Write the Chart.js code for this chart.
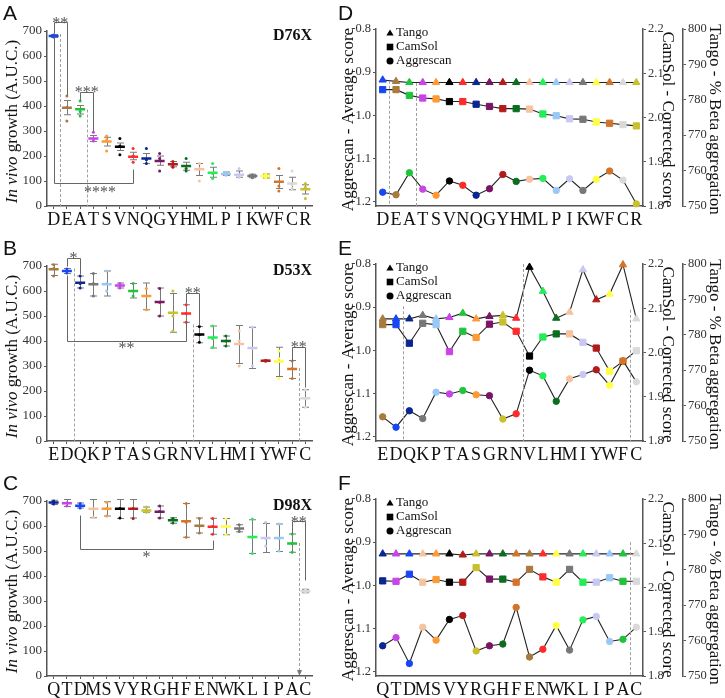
<!DOCTYPE html>
<html>
<head>
<meta charset="utf-8">
<script src="https://cdn.jsdelivr.net/npm/chart.js@4.4.1/dist/chart.umd.min.js"></script>
<style>
  body { margin: 0; background: #fff; }
  #page { position: relative; width: 725px; height: 698px; overflow: hidden; }
  canvas, .tag { position: absolute; }
  .tag { font: 21px 'Liberation Sans', Arial, sans-serif; line-height: 1; color: #111; }
</style>
</head>
<body>
<div id="page">
  <canvas id="growthA" width="330" height="228" style="left:0;top:0"></canvas>
  <canvas id="growthB" width="330" height="228" style="left:0;top:235px"></canvas>
  <canvas id="growthC" width="330" height="228" style="left:0;top:470px"></canvas>
  <canvas id="scoreD" width="395" height="228" style="left:330px;top:0"></canvas>
  <canvas id="scoreE" width="395" height="228" style="left:330px;top:235px"></canvas>
  <canvas id="scoreF" width="395" height="228" style="left:330px;top:470px"></canvas>
  <div class="tag" style="left:3px;top:2px">A</div>
  <div class="tag" style="left:3px;top:237px">B</div>
  <div class="tag" style="left:3px;top:472px">C</div>
  <div class="tag" style="left:338px;top:2px">D</div>
  <div class="tag" style="left:338px;top:237px">E</div>
  <div class="tag" style="left:338px;top:472px">F</div>
</div>
<script>
const SERIF = "'Liberation Serif', 'Times New Roman', serif";
Chart.defaults.font.family = SERIF;
Chart.defaults.color = '#222';

// colour per amino acid, same in every panel
const aaColor = {
  D: '#1846f5', E: '#a97a3e', A: '#1fc43a', T: '#c844e8', S: '#ff9933',
  V: '#000000', N: '#ff2b2b', Q: '#0a2690', G: '#7a1666', Y: '#b31a1a',
  H: '#0b6e1e', M: '#f6c3a0', L: '#22ee55', P: '#99c8f7', I: '#c8c8f2',
  K: '#777777', W: '#ffff44', F: '#d4742a', C: '#d9d9d9', R: '#c8c02e'
};

// ---- A: D76X growth
const catsA = ['D','E','A','T','S','V','N','Q','G','Y','H','M','L','P','I','K','W','F','C','R'];
const meanA = [680,393,387,270,258,237,197,190,180,167,160,147,133,128,125,120,120,97,90,67];
const loA   = [674,365,368,258,240,222,185,170,163,157,143,122,115,122,115,113,112,70,65,48];
const hiA   = [686,422,402,282,275,252,215,210,200,178,175,170,155,136,140,127,128,122,115,85];
const rep1A = [684,440,420,295,280,270,230,230,210,178,190,170,170,135,150,125,128,150,140,90];
const rep2A = [676,340,360,260,220,205,175,170,140,155,140,100,110,123,115,113,112,60,70,30];
const rep3A = [680,395,378,268,265,240,200,185,190,165,150,150,130,128,125,120,120,80,85,75];

// ---- B: D53X growth
const catsB = ['E','D','Q','K','P','T','A','S','G','R','N','V','L','H','M','I','Y','W','F','C'];
const meanB = [687,680,633,627,627,622,600,580,556,513,510,426,414,400,388,372,321,318,288,171];
const loB   = [662,670,612,580,580,612,572,525,500,435,475,393,372,380,310,290,318,258,250,135];
const hiB   = [707,690,660,670,680,632,630,632,612,590,545,458,460,420,462,455,324,375,322,205];
const rep1B = [705,688,660,670,680,630,630,610,610,600,545,458,460,420,440,455,322,360,320,205];
const rep2B = [660,672,612,580,600,612,580,525,500,440,475,395,375,380,300,300,320,250,250,135];
const rep3B = [690,680,630,630,630,622,600,580,555,500,510,425,410,400,400,370,320,330,290,170];

// ---- C: D98X growth
const catsC = ['Q','T','D','M','S','V','Y','R','G','H','F','E','N','W','K','L','I','P','A','C'];
const meanC = [694,691,681,669,669,669,669,662,657,623,619,601,597,598,590,556,552,552,530,339];
const loC   = [686,678,672,633,640,630,632,655,632,611,555,572,567,565,577,490,494,498,495,333];
const hiC   = [703,706,692,706,697,706,706,676,680,633,690,632,631,630,605,625,610,608,568,347];
const rep1C = [700,706,690,706,695,706,706,676,680,630,690,630,630,628,605,628,615,608,568,345];
const rep2C = [688,680,672,635,640,632,630,655,632,612,555,572,567,565,578,490,520,500,495,335];
const rep3C = [696,693,683,668,670,670,670,660,658,628,615,600,598,600,588,555,550,550,530,338];

// ---- D/E/F: predicted scores (Tango %, CamSol, Aggrescan)
const tangoD = [785.6,785.2,784.9,784.9,784.9,784.9,784.9,784.9,784.9,784.9,784.9,784.9,784.9,784.9,784.9,784.9,784.9,784.9,784.9,784.9];
const camD   = [2.063,2.063,2.050,2.044,2.042,2.036,2.036,2.030,2.025,2.020,2.020,2.019,2.008,2.004,1.997,1.996,1.990,1.987,1.984,1.981];
const aggD   = [-1.178,-1.184,-1.133,-1.171,-1.185,-1.152,-1.162,-1.185,-1.170,-1.137,-1.153,-1.148,-1.146,-1.174,-1.147,-1.174,-1.148,-1.129,-1.150,-1.205];

const tangoE = [784.5,784.5,784.5,785.5,784.5,784.9,786.1,784.5,785.2,785.5,784.7,799.1,792.3,784.7,786.4,798.4,789.9,791.5,799.8,784.5];
const camE   = [2.063,2.063,2.021,2.066,2.063,2.002,2.048,2.034,2.064,2.069,2.048,1.992,2.035,2.042,2.042,2.023,2.010,1.958,1.980,2.004];
const aggE   = [-1.154,-1.178,-1.140,-1.158,-1.097,-1.101,-1.093,-1.103,-1.105,-1.159,-1.147,-1.046,-1.059,-1.118,-1.066,-1.056,-1.045,-1.081,-1.024,-1.073];

const tangoF = [784.5,784.5,784.5,784.5,784.5,784.5,784.2,784.5,784.5,784.5,784.5,784.5,784.5,784.5,784.5,784.5,784.5,784.5,784.5,784.5];
const camF   = [2.015,2.014,2.030,2.012,2.018,2.012,2.012,2.045,2.019,2.019,2.012,2.041,2.024,2.012,2.041,2.012,2.012,2.022,2.014,2.014];
const aggF   = [-1.140,-1.121,-1.181,-1.097,-1.127,-1.079,-1.070,-1.152,-1.140,-1.136,-1.051,-1.166,-1.148,-1.093,-1.150,-1.080,-1.072,-1.130,-1.125,-1.097];

// tick labels
const growthTicks = [0,100,200,300,400,500,600,700];
const aggTicks   = [-1.2,-1.1,-1.0,-0.9,-0.8];
const camTicks   = [1.8,1.9,2.0,2.1,2.2];
const tangoTicks = [750,760,770,780,790,800];

// significance brackets (category index, value) and dashed guides
const bracketsA = [
  { path: [[0,691],[0,736],[1,736],[1,445]], text: '**', at: [0.5,746] },
  { path: [[2,426],[2,456],[3,456],[3,300]], text: '***', at: [2.5,468] },
  { path: [[0,680],[0,94],[6,94],[6,150]], text: '****', at: [3.5,70] }
];
const dashesA = [{ at: 0.5, from: 688, to: 0 }, { at: 2.5, from: 386, to: 0 }];
const bracketsB = [
  { path: [[1,700],[1,731],[2,731],[2,667]], text: '*', at: [1.5,744] },
  { path: [[10,553],[10,593],[11,593],[11,466]], text: '**', at: [10.5,606] },
  { path: [[1,664],[1,402],[10,402],[10,479]], text: '**', at: [5.5,383] },
  { path: [[18,321],[18,375],[19,375],[19,218]], text: '**', at: [18.5,388] }
];
const dashesB = [{ at: 1.5, from: 690, to: 0 }, { at: 10.5, from: 466, to: 0 }, { at: 18.5, from: 292, to: 0 }];
const bracketsC = [
  { path: [[2,646],[2,507],[12,507],[12,545]], text: '*', at: [7,487] },
  { path: [[18,572],[18,619],[19,619],[19,384]], text: '**', at: [18.5,630] }
];
const dashesC = [{ at: 18.5, from: 532, to: 4, arrow: true }];
const dashesD = [{ at: 0.5, from: -0.92, to: -1.21 }, { at: 2.5, from: -0.925, to: -1.21 }];
const dashesE = [{ at: 1.5, from: -0.898, to: -1.21 }, { at: 10.5, from: -0.8, to: -1.21 }, { at: 18.5, from: -0.906, to: -1.21 }];
const dashesF = [{ at: 18.5, from: -0.90, to: -1.21 }];

function errorBars(lo, hi) {
  return {
    id: 'errorBars',
    beforeDatasetsDraw(chart) {
      const { ctx, scales: { x, y } } = chart;
      ctx.save();
      ctx.strokeStyle = '#7a7a7a';
      ctx.lineWidth = 1;
      lo.forEach((v, i) => {
        const px = Math.round(x.getPixelForValue(i)) + 0.5;
        const a = y.getPixelForValue(v), b = y.getPixelForValue(hi[i]);
        ctx.beginPath();
        ctx.moveTo(px, a); ctx.lineTo(px, b);
        ctx.moveTo(px - 3.5, a); ctx.lineTo(px + 3.5, a);
        ctx.moveTo(px - 3.5, b); ctx.lineTo(px + 3.5, b);
        ctx.stroke();
      });
      ctx.restore();
    }
  };
}

function sigMarks(brackets, dashes, yId) {
  return {
    id: 'sigMarks',
    afterDatasetsDraw(chart) {
      const { ctx } = chart;
      const x = chart.scales.x, y = chart.scales[yId];
      const X = i => Math.round(x.getPixelForValue(i)) + 0.5;
      ctx.save();
      // dashed guides
      ctx.strokeStyle = '#a0a0a0';
      ctx.lineWidth = 1;
      ctx.setLineDash([3, 2]);
      dashes.forEach(d => {
        ctx.beginPath();
        ctx.moveTo(X(d.at), y.getPixelForValue(d.from));
        ctx.lineTo(X(d.at), y.getPixelForValue(d.to));
        ctx.stroke();
      });
      ctx.setLineDash([]);
      dashes.filter(d => d.arrow).forEach(d => {
        const px = X(d.at), py = y.getPixelForValue(d.to);
        ctx.fillStyle = '#777';
        ctx.beginPath();
        ctx.moveTo(px - 2.5, py - 5); ctx.lineTo(px + 2.5, py - 5); ctx.lineTo(px, py + 1);
        ctx.fill();
      });
      // brackets
      ctx.strokeStyle = '#666';
      (brackets || []).forEach(b => {
        ctx.beginPath();
        b.path.forEach(([i, v], k) => {
          const px = X(i), py = Math.round(y.getPixelForValue(v)) + 0.5;
          k ? ctx.lineTo(px, py) : ctx.moveTo(px, py);
        });
        ctx.stroke();
        ctx.font = '16px ' + SERIF;
        ctx.fillStyle = '#555';
        ctx.textAlign = 'center';
        ctx.textBaseline = 'middle';
        ctx.fillText(b.text, x.getPixelForValue(b.at[0]), y.getPixelForValue(b.at[1]) + 4);
      });
      ctx.restore();
    }
  };
}

function growthLabels(name) {
  return {
    id: 'growthLabels',
    afterDraw(chart) {
      const { ctx, chartArea: a } = chart;
      ctx.save();
      ctx.fillStyle = '#111';
      ctx.textBaseline = 'middle';
      ctx.translate(12.5, (a.top + a.bottom) / 2 + 3);
      ctx.rotate(-Math.PI / 2);
      const it = 'italic 17px ' + SERIF, rg = '17px ' + SERIF;
      ctx.font = it; const w1 = ctx.measureText('In vivo').width;
      ctx.font = rg; const w2 = ctx.measureText(' growth (A.U.C.)').width;
      ctx.textAlign = 'left';
      ctx.font = it; ctx.fillText('In vivo', -(w1 + w2) / 2, 0);
      ctx.font = rg; ctx.fillText(' growth (A.U.C.)', -(w1 + w2) / 2 + w1, 0);
      ctx.restore();
      ctx.save();
      ctx.font = 'bold 16px ' + SERIF;
      ctx.fillStyle = '#111';
      ctx.textAlign = 'right';
      ctx.textBaseline = 'middle';
      ctx.fillText(name, a.right, a.top + 5);
      ctx.restore();
    }
  };
}

const scoreLabels = {
  id: 'scoreLabels',
  afterDraw(chart) {
    const { ctx, chartArea: a } = chart;
    const mid = (a.top + a.bottom) / 2;
    ctx.save();
    ctx.font = '17px ' + SERIF;
    ctx.fillStyle = '#111';
    ctx.textAlign = 'center';
    ctx.textBaseline = 'middle';
    [[a.left - 27, -1, 'Aggrescan - Average score'],
     [a.right + 24, 1, 'CamSol - Corrected score'],
     [a.right + 71, 1, 'Tango - % Beta aggregation']].forEach(([tx, dir, t]) => {
      ctx.save();
      ctx.translate(tx, mid + 2);
      ctx.rotate(dir * Math.PI / 2);
      ctx.fillText(t, 0, 0);
      ctx.restore();
    });
    // legend
    const lx = a.left + 14;
    ctx.fillStyle = '#000';
    ctx.beginPath();
    ctx.moveTo(lx, a.top + 0.5); ctx.lineTo(lx + 3.6, a.top + 6.5); ctx.lineTo(lx - 3.6, a.top + 6.5);
    ctx.fill();
    ctx.fillRect(lx - 3.3, a.top + 14.7, 6.6, 6.6);
    ctx.beginPath();
    ctx.arc(lx, a.top + 32, 3.5, 0, Math.PI * 2);
    ctx.fill();
    ctx.font = '13px ' + SERIF;
    ctx.textAlign = 'left';
    ctx.fillStyle = '#111';
    ctx.fillText('Tango', lx + 6, a.top + 4);
    ctx.fillText('CamSol', lx + 6, a.top + 18);
    ctx.fillText('Aggrescan', lx + 6, a.top + 32);
    ctx.restore();
  }
};

function growthChart(id, cats, mean, lo, hi, reps, name, brackets, dashes) {
  const cols = cats.map(c => aaColor[c]);
  const dots = reps.map(r => ({ data: r, pointRadius: 1.5, pointBackgroundColor: cols, pointBorderWidth: 0 }));
  new Chart(document.getElementById(id), {
    type: 'line',
    data: {
      labels: cats,
      datasets: [
        { data: mean, pointStyle: 'line', pointRadius: 5, pointBorderWidth: 2.5, pointBorderColor: cols, pointBackgroundColor: cols },
        ...dots
      ].map(d => ({ showLine: false, clip: false, pointHoverRadius: d.pointRadius, ...d }))
    },
    options: {
      responsive: false,
      animation: false,
      events: [],
      layout: { padding: { top: 31, right: 18, bottom: 0, left: 0 } },
      plugins: { legend: { display: false }, tooltip: { enabled: false } },
      scales: {
        x: {
          offset: true,
          grid: { drawOnChartArea: false, drawTicks: true, tickLength: 3, color: '#555' },
          border: { color: '#555', width: 1.5 },
          ticks: { font: { size: 18 }, color: '#111', padding: 0, autoSkip: false, maxRotation: 0 },
          afterFit: s => { s.height = 22; }
        },
        y: {
          min: 0, max: 700,
          afterBuildTicks: s => { s.ticks = growthTicks.map(v => ({ value: v })); },
          grid: { drawOnChartArea: false, tickLength: 3, color: '#555' },
          border: { color: '#555', width: 1.5 },
          ticks: { font: { size: 13 }, color: '#333', padding: 2 },
          afterFit: s => { s.width = 47; }
        }
      }
    },
    plugins: [errorBars(lo, hi), sigMarks(brackets, dashes, 'y'), growthLabels(name)]
  });
}

function scoreChart(id, cats, tango, cam, agg, dashes) {
  const cols = cats.map(c => aaColor[c]);
  const series = (data, axis, style, r) => ({
    data, yAxisID: axis, pointStyle: style, pointRadius: r, pointHoverRadius: r,
    pointBackgroundColor: cols, pointBorderColor: cols, pointBorderWidth: 1,
    borderColor: '#222', borderWidth: 1.1, tension: 0, clip: false
  });
  const side = (pos, min, max, ticks, digits, width, weight) => ({
    position: pos, min, max, weight,
    afterBuildTicks: s => { s.ticks = ticks.map(v => ({ value: v })); },
    grid: { drawOnChartArea: false, tickLength: 3, color: '#555' },
    border: { color: '#555', width: 1.5 },
    ticks: { font: { size: 12.5 }, color: '#333', padding: 2, callback: v => v.toFixed(digits) },
    afterFit: s => { s.width = width; }
  });
  new Chart(document.getElementById(id), {
    type: 'line',
    data: {
      labels: cats,
      datasets: [
        series(agg, 'yA', 'circle', 3.2),
        series(cam, 'yC', 'rect', 4.4),
        series(tango, 'yT', 'triangle', 4.2)
      ]
    },
    options: {
      responsive: false,
      animation: false,
      events: [],
      layout: { padding: { top: 29, right: 0, bottom: 0, left: 0 } },
      plugins: { legend: { display: false }, tooltip: { enabled: false } },
      scales: {
        x: {
          offset: true,
          grid: { display: false, drawTicks: false },
          border: { color: '#555', width: 1.5 },
          ticks: { font: { size: 18 }, color: '#111', padding: 3, autoSkip: false, maxRotation: 0 },
          afterFit: s => { s.height = 22; }
        },
        yA: side('left', -1.21, -0.8, aggTicks, 1, 46, 0),
        yC: side('right', 1.8, 2.2, camTicks, 1, 40, 0),
        yT: side('right', 750, 800, tangoTicks, 0, 42, 1)
      }
    },
    plugins: [sigMarks([], dashes, 'yA'), scoreLabels]
  });
}

growthChart('growthA', catsA, meanA, loA, hiA, [rep1A, rep2A, rep3A], 'D76X', bracketsA, dashesA);
growthChart('growthB', catsB, meanB, loB, hiB, [rep1B, rep2B, rep3B], 'D53X', bracketsB, dashesB);
growthChart('growthC', catsC, meanC, loC, hiC, [rep1C, rep2C, rep3C], 'D98X', bracketsC, dashesC);
scoreChart('scoreD', catsA, tangoD, camD, aggD, dashesD);
scoreChart('scoreE', catsB, tangoE, camE, aggE, dashesE);
scoreChart('scoreF', catsC, tangoF, camF, aggF, dashesF);
</script>
</body>
</html>
